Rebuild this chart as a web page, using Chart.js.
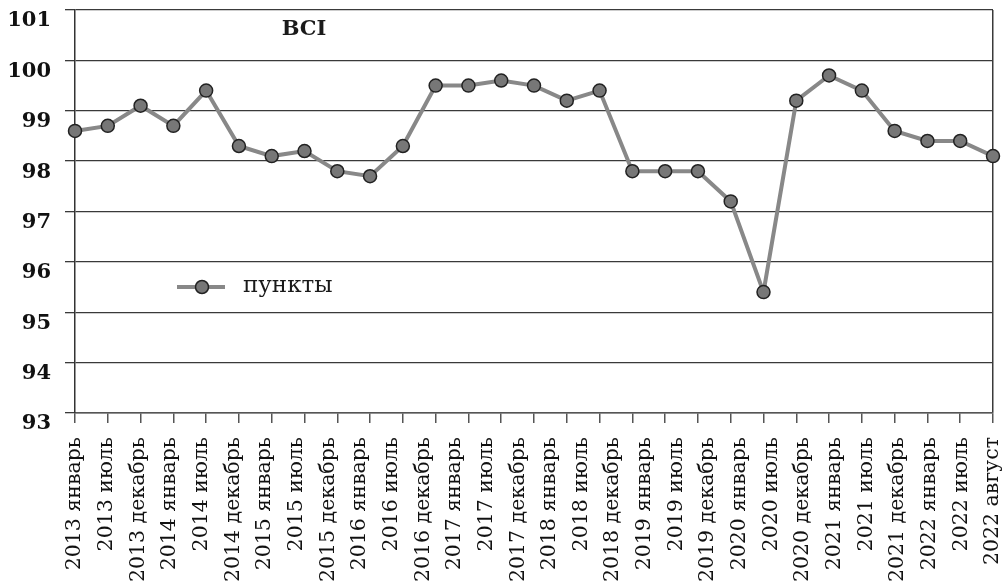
<!DOCTYPE html>
<html>
<head>
<meta charset="utf-8">
<script src="https://cdn.jsdelivr.net/npm/chart.js@4"></script>
<style>
  html, body { margin: 0; padding: 0; background: #fff; }
  #wrap { width: 1008px; height: 588px; position: relative; }
</style>
</head>
<body>
<div id="wrap"><canvas id="bciChart"></canvas></div>
<script>
// tick labels along the bottom (30 labels, drawn evenly across the axis)
const periodLabels = [
  '2013 январь', '2013 июль', '2013 декабрь',
  '2014 январь', '2014 июль', '2014 декабрь',
  '2015 январь', '2015 июль', '2015 декабрь',
  '2016 январь', '2016 июль', '2016 декабрь',
  '2017 январь', '2017 июль', '2017 декабрь',
  '2018 январь', '2018 июль', '2018 декабрь',
  '2019 январь', '2019 июль', '2019 декабрь',
  '2020 январь', '2020 июль', '2020 декабрь',
  '2021 январь', '2021 июль', '2021 декабрь',
  '2022 январь', '2022 июль', '2022 август'
];

// BCI values (points), one per tick mark
const bciValues = [
  98.6, 98.7, 99.1, 98.7, 99.4, 98.3, 98.1, 98.2, 97.8, 97.7,
  98.3, 99.5, 99.5, 99.6, 99.5, 99.2, 99.4, 97.8, 97.8, 97.8,
  97.2, 95.4, 99.2, 99.7, 99.4, 98.6, 98.4, 98.4, 98.1
];

const yMin = 93;
const yMax = 101;
const seriesName = 'пункты';
const chartTitle = 'BCI';

const FONT = "'DejaVu Serif', serif";
const LINE_COLOR = '#888888';
const POINT_FILL = '#777777';
const POINT_EDGE = '#222222';
const GRID_COLOR = '#3a3a3a';

// no extra room for overhanging labels, the plot box is fixed
function noPad(scale) {
  scale.paddingTop = 0;
  scale.paddingBottom = 0;
  scale.paddingLeft = 0;
  scale.paddingRight = 0;
}

// draws the "BCI" caption and the floating legend inside the plot
const overlayPlugin = {
  id: 'overlay',
  afterDraw(chart) {
    const ctx = chart.ctx;
    const area = chart.chartArea;
    ctx.save();
    ctx.fillStyle = '#1a1a1a';
    ctx.font = "bold 21px " + FONT;
    ctx.textAlign = 'center';
    ctx.textBaseline = 'middle';
    ctx.fillText(chartTitle, area.left + 229, area.top + 20);

    const lx = area.left + 102;
    const ly = area.top + 277;
    ctx.strokeStyle = LINE_COLOR;
    ctx.lineWidth = 4;
    ctx.beginPath();
    ctx.moveTo(lx, ly);
    ctx.lineTo(lx + 48, ly);
    ctx.stroke();
    ctx.beginPath();
    ctx.arc(lx + 25, ly, 6.5, 0, Math.PI * 2);
    ctx.fillStyle = POINT_FILL;
    ctx.fill();
    ctx.lineWidth = 1.5;
    ctx.strokeStyle = POINT_EDGE;
    ctx.stroke();

    ctx.fillStyle = '#1a1a1a';
    ctx.font = "23px " + FONT;
    ctx.textAlign = 'left';
    ctx.fillText(seriesName, lx + 66, ly - 1);
    ctx.restore();
  }
};

const ctx = document.getElementById('bciChart').getContext('2d');
new Chart(ctx, {
  type: 'line',
  data: {
    datasets: [{
      label: seriesName,
      data: bciValues.map((v, i) => ({ x: i, y: v })),
      borderColor: LINE_COLOR,
      borderWidth: 4,
      pointRadius: 6.5,
      pointBackgroundColor: POINT_FILL,
      pointBorderColor: POINT_EDGE,
      pointBorderWidth: 1.5,
      tension: 0,
      clip: false
    }]
  },
  options: {
    responsive: true,
    maintainAspectRatio: false,
    animation: false,
    layout: { padding: { top: 10, right: 15, left: 0, bottom: 0 } },
    plugins: {
      legend: { display: false },
      tooltip: { enabled: false }
    },
    scales: {
      x: {
        type: 'linear',
        position: 'bottom',
        weight: 0,
        min: 0,
        max: bciValues.length - 1,
        ticks: { display: false, stepSize: 1 },
        grid: {
          drawOnChartArea: true,
          color: c => (c.index === bciValues.length - 1 ? GRID_COLOR : 'rgba(0,0,0,0)'),
          tickColor: '#555',
          tickLength: 10,
          lineWidth: 1.5
        },
        border: { display: true, color: '#555', width: 1.5 },
        afterFit(scale) { scale.height = 10; noPad(scale); }
      },
      x2: {
        type: 'category',
        position: 'bottom',
        weight: 1,
        labels: periodLabels,
        offset: false,
        grid: { display: false, drawTicks: false },
        border: { display: false },
        ticks: {
          autoSkip: false,
          maxRotation: 90,
          minRotation: 90,
          padding: 14,
          color: '#111',
          font: { family: FONT, size: 20.5 }
        },
        afterFit(scale) { scale.height = 165; noPad(scale); }
      },
      y: {
        min: yMin,
        max: yMax,
        ticks: {
          stepSize: 1,
          padding: 14,
          labelOffset: 11,
          color: '#111',
          font: { family: FONT, size: 21, weight: 'bold' }
        },
        grid: {
          color: GRID_COLOR,
          lineWidth: 1.3,
          tickLength: 10,
          drawTicks: true
        },
        border: { display: true, color: '#333', width: 1.5 },
        afterFit(scale) { scale.width = 75; noPad(scale); }
      }
    }
  },
  plugins: [overlayPlugin]
});
</script>
</body>
</html>
